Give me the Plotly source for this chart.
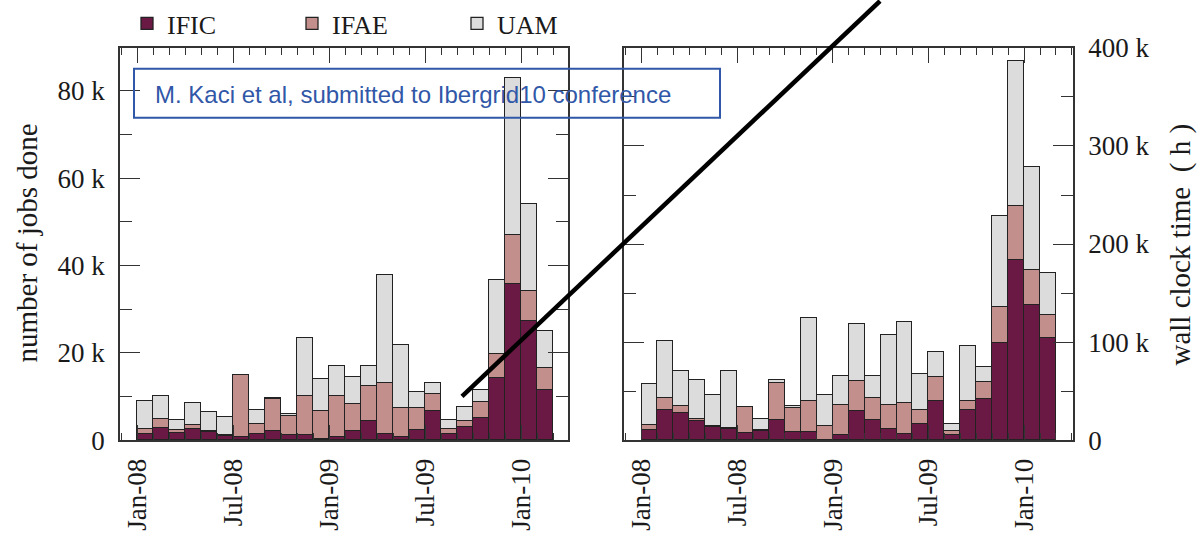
import plotly.graph_objects as go

# ---------------- data (month index 0 = Jan-08) ----------------
months = list(range(26))
tick_months = [0, 6, 12, 18, 24]
tick_labels = ["Jan-08", "Jul-08", "Jan-09", "Jul-09", "Jan-10"]

# number of jobs done (thousands)
ific_jobs = [1.5, 2.9, 1.7, 2.6, 1.9, 1.0, 0.7, 1.5, 2.1, 1.1, 1.3, 0.2, 0.7,
             2.1, 4.3, 1.5, 0.7, 2.3, 6.8, 1.5, 3.0, 5.1, 14.3, 35.7, 27.3, 11.5]
ifae_jobs = [1.1, 2.0, 0.7, 0.8, 0.2, 0.1, 14.2, 2.3, 7.3, 4.4, 8.9, 6.4, 9.5,
             6.2, 8.2, 11.7, 6.8, 5.0, 3.9, 1.1, 1.5, 3.7, 5.5, 11.2, 6.8, 5.1]
uam_jobs = [6.3, 5.3, 2.3, 5.1, 4.3, 4.3, 0.1, 3.1, 0.2, 0.5, 13.3, 7.4, 6.9,
            6.2, 4.6, 24.7, 14.2, 3.8, 2.5, 2.1, 3.2, 2.7, 17.0, 36.0, 20.0, 8.5]

# wall clock time (thousand hours)
ific_wall = [10.9, 30.6, 27.9, 19.4, 13.6, 11.9, 7.5, 9.2, 20.4, 8.5, 8.5, 0.5, 5.1,
             29.9, 20.4, 11.9, 6.8, 16.3, 39.8, 5.1, 30.6, 41.8, 99.6, 184.3, 138.4, 104.4]
ifae_wall = [4.4, 12.6, 7.1, 2.7, 0.7, 0.7, 26.5, 1.7, 38.4, 24.5, 31.3, 13.8, 30.6,
             30.6, 22.8, 24.5, 31.3, 14.3, 24.8, 4.4, 9.2, 17.7, 36.4, 54.4, 35.0, 23.8]
uam_wall = [42.5, 58.1, 35.7, 39.1, 31.6, 58.1, 0.0, 11.2, 2.4, 1.7, 85.3, 31.6, 29.6,
            58.5, 22.1, 70.7, 82.6, 36.7, 25.5, 6.8, 56.1, 15.3, 92.5, 148.2, 105.4, 42.8]

sites = ["IFIC", "IFAE", "UAM"]
colors = ["#6A1844", "#C38F8D", "#DCDCDC"]

jobs_ticks = [0, 20, 40, 60, 80]
jobs_ticktext = ["0", "20 k", "40 k", "60 k", "80 k"]
wall_ticks = [0, 100, 200, 300, 400]
wall_ticktext = ["0", "100 k", "200 k", "300 k", "400 k"]

SERIF = "Liberation Serif, Times New Roman, serif"
W, H = 1200, 537

fig = go.Figure()
for name, col, jv, wv in zip(sites, colors,
                             [ific_jobs, ifae_jobs, uam_jobs],
                             [ific_wall, ifae_wall, uam_wall]):
    fig.add_trace(go.Bar(x=months, y=jv, width=1, offset=0, name=name,
                         marker=dict(color=col, line=dict(color="#222222", width=1.3)),
                         xaxis="x", yaxis="y", legendgroup=name, showlegend=True))
    fig.add_trace(go.Bar(x=months, y=wv, width=1, offset=0, name=name,
                         marker=dict(color=col, line=dict(color="#222222", width=1.3)),
                         xaxis="x2", yaxis="y2", legendgroup=name, showlegend=False))

def px_x(v):
    return v / W

def px_y(v):
    return 1 - v / H

ydom = [px_y(440), px_y(47)]

common_x = dict(
    tickmode="array", tickvals=tick_months, ticktext=tick_labels,
    tickangle=-90, ticks="inside", ticklen=15, tickwidth=1.3, tickcolor="#333",
    minor=dict(ticks="inside", dtick=1, tick0=0, ticklen=7, tickwidth=1.2, tickcolor="#333"),
    showline=True, linecolor="#333", linewidth=1.5, mirror="ticks",
    showgrid=False, zeroline=False, automargin=False,
    tickfont=dict(family=SERIF, size=27, color="#1a1a1a"),
    ticklabelstandoff=6,
)
common_y = dict(
    ticks="inside", ticklen=20, tickwidth=1.3, tickcolor="#333",
    showline=True, linecolor="#333", linewidth=1.5, mirror="ticks",
    showgrid=False, zeroline=False, automargin=False,
    tickfont=dict(family=SERIF, size=27, color="#1a1a1a"),
)

fig.update_layout(
    width=W, height=H, margin=dict(l=0, r=0, t=0, b=0),
    paper_bgcolor="white", plot_bgcolor="white",
    barmode="stack", bargap=0,
    xaxis=dict(domain=[px_x(120), px_x(568)], range=[-1.08, 26.92], anchor="y", **common_x),
    yaxis=dict(domain=ydom, range=[0, 89.8], anchor="x", tickmode="array",
               tickvals=jobs_ticks, ticktext=jobs_ticktext,
               minor=dict(ticks="inside", dtick=10, ticklen=12, tickwidth=1.2, tickcolor="#333"),
               ticklabelstandoff=8, **common_y),
    xaxis2=dict(domain=[px_x(624), px_x(1073)], range=[-1.1, 27.07], anchor="y2", **common_x),
    yaxis2=dict(domain=ydom, range=[0, 400], anchor="x2", side="right", tickmode="array",
                tickvals=wall_ticks, ticktext=wall_ticktext,
                minor=dict(ticks="inside", dtick=50, ticklen=12, tickwidth=1.2, tickcolor="#333"),
                ticklabelstandoff=8, **common_y),
    legend=dict(orientation="h", x=px_x(127), xanchor="left", y=px_y(23), yanchor="middle",
                traceorder="normal", entrywidth=120, entrywidthmode="pixels",
                font=dict(family=SERIF, size=26, color="#1a1a1a"),
                bgcolor="rgba(0,0,0,0)"),
    showlegend=True,
)

# axis titles
fig.add_annotation(text="number of jobs done", x=px_x(27), y=px_y(243), xref="paper", yref="paper",
                   textangle=-90, showarrow=False, xanchor="center", yanchor="middle",
                   font=dict(family=SERIF, size=29, color="#1a1a1a"))
fig.add_annotation(text="wall clock time  ( h )", x=px_x(1181), y=px_y(244), xref="paper", yref="paper",
                   textangle=-90, showarrow=False, xanchor="center", yanchor="middle",
                   font=dict(family=SERIF, size=29, color="#1a1a1a"))

# citation box
fig.add_shape(type="rect", xref="paper", yref="paper",
              x0=px_x(134), x1=px_x(720), y0=px_y(117), y1=px_y(68),
              line=dict(color="#3157A8", width=2), fillcolor="rgba(0,0,0,0)", layer="above")
fig.add_annotation(text="M. Kaci et al, submitted to Ibergrid10 conference",
                   x=px_x(153), y=px_y(94), xref="paper", yref="paper", showarrow=False,
                   xanchor="left", yanchor="middle",
                   font=dict(family="Liberation Sans, Arial, sans-serif", size=24, color="#3157A8"))

# diagonal overlay stroke
fig.add_shape(type="line", xref="paper", yref="paper",
              x0=px_x(462), y0=px_y(396), x1=px_x(880), y1=px_y(0),
              line=dict(color="black", width=4.5), layer="above")

fig.write_html("out.html")
